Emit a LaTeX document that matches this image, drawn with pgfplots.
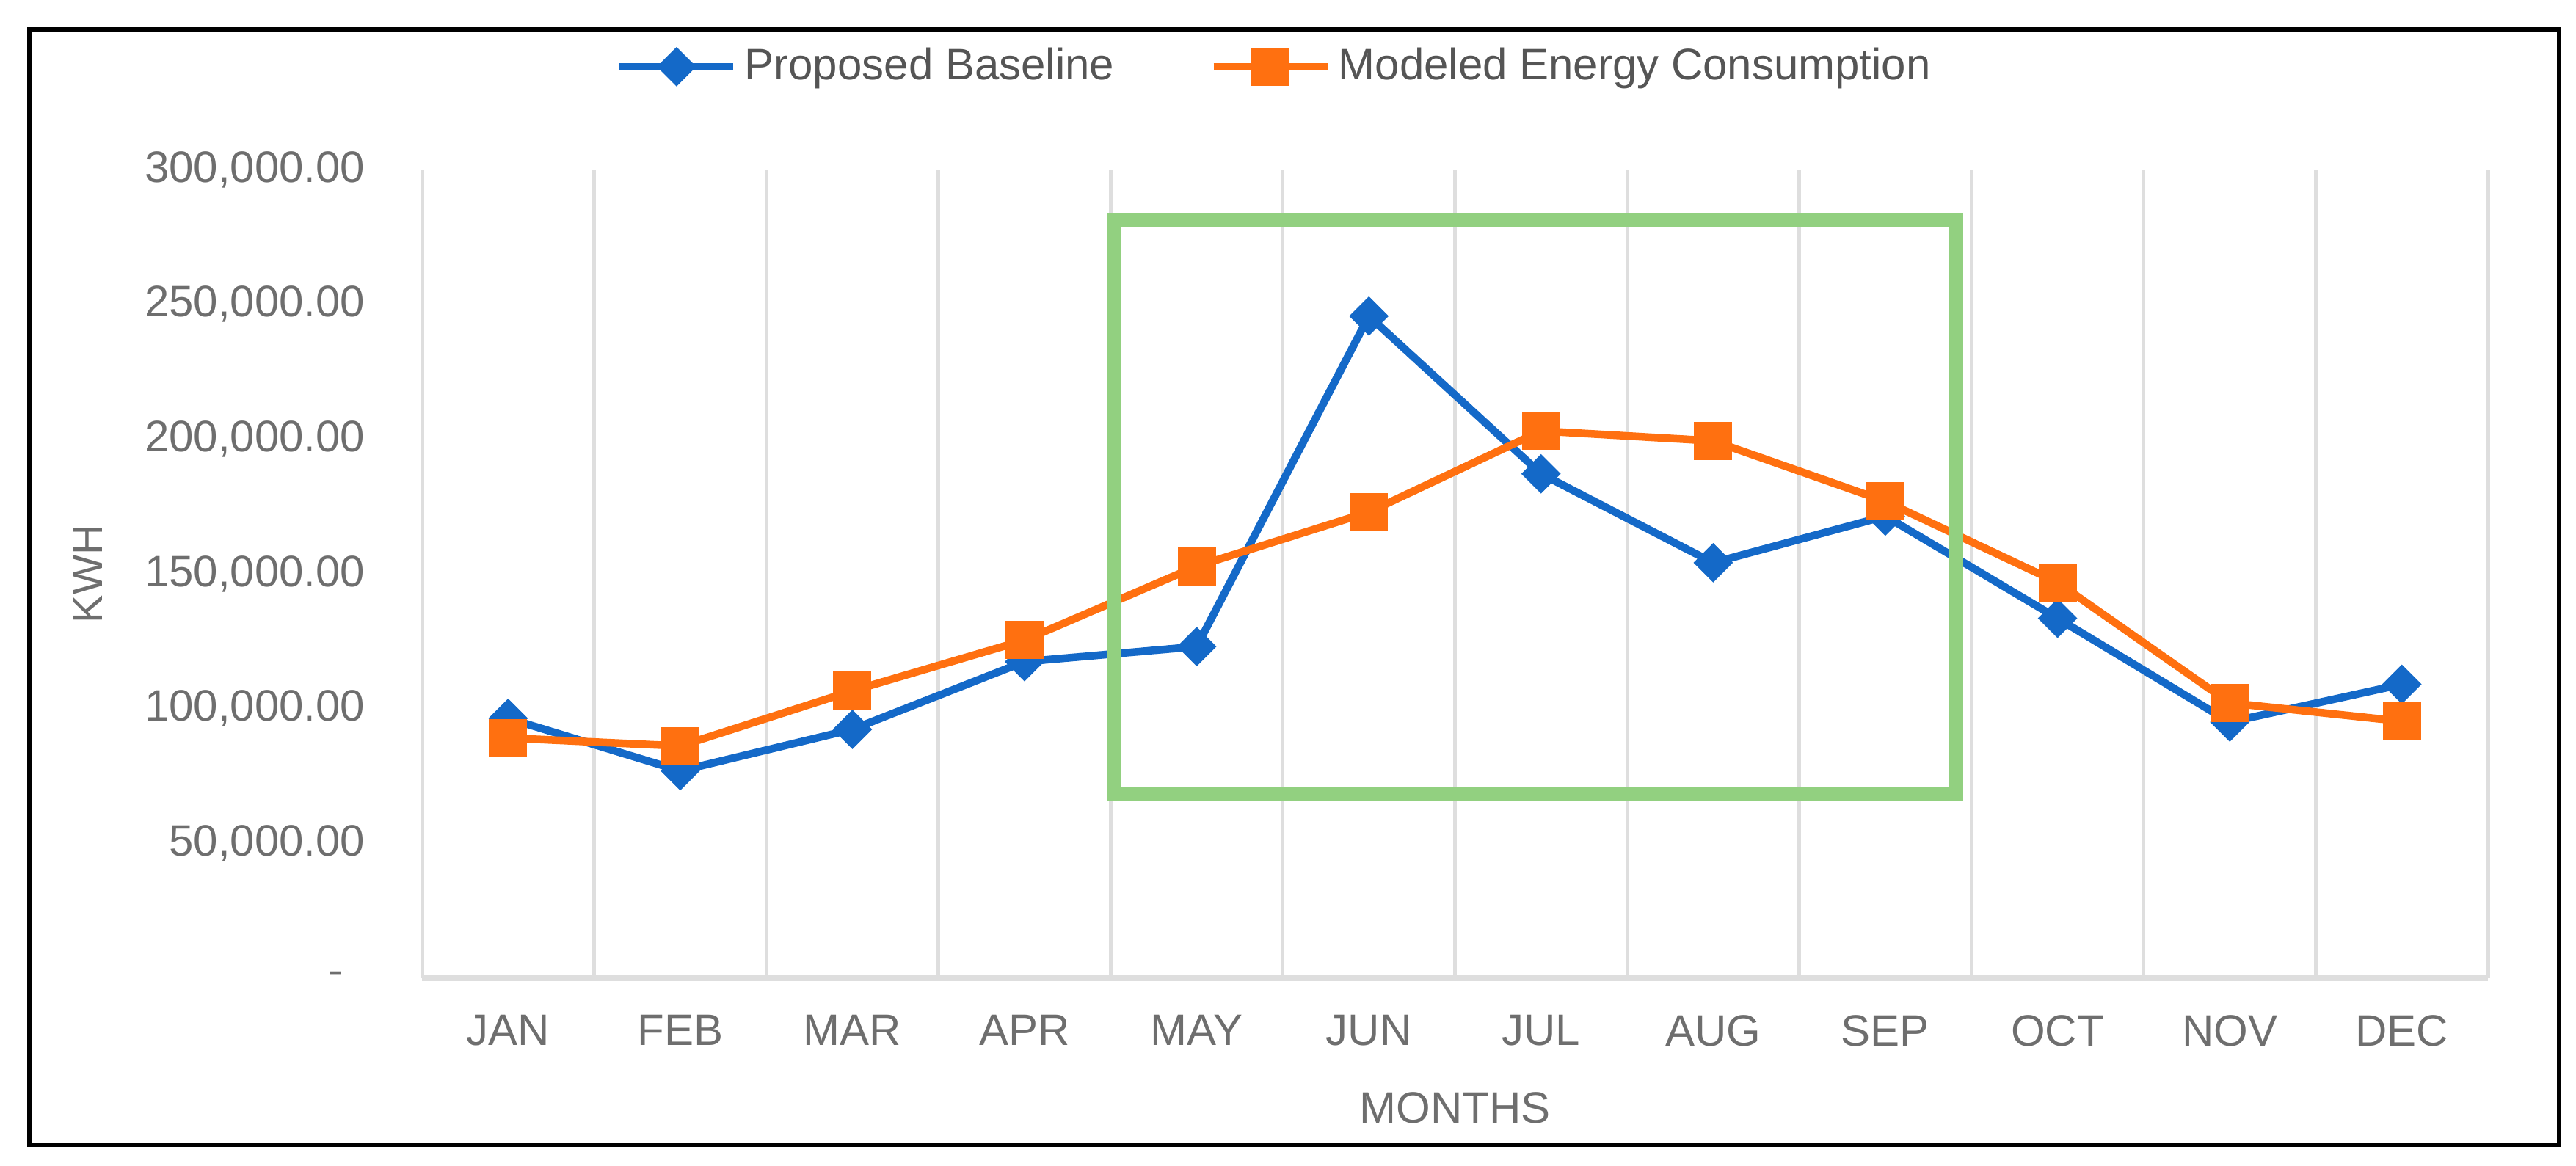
\documentclass[border=0pt]{standalone}
\usepackage{pgfplots}
\pgfplotsset{compat=1.18}
\usepackage{fontspec}
\setmainfont{Liberation Sans}
\definecolor{cblue}{RGB}{20,105,200}
\definecolor{corange}{RGB}{255,112,16}
\definecolor{cgreen}{RGB}{146,208,128}
\definecolor{ctext}{RGB}{110,110,110}
\definecolor{clegend}{RGB}{85,85,85}
\definecolor{cgrid}{RGB}{222,222,222}
\begin{document}
\begin{tikzpicture}
\path[use as bounding box] (0,0) rectangle (702pt,317.8pt);
\draw[black, line width=1.3pt] (8.05pt,5.8pt) rectangle (697.4pt,309.8pt);
\begin{axis}[
  at={(115pt,51.2pt)}, anchor=south west,
  scale only axis, width=563pt, height=220.4pt,
  xmin=-0.5, xmax=11.5, ymin=0, ymax=300000,
  scaled y ticks=false,
  xtick={0,...,11},
  xticklabels={JAN,FEB,MAR,APR,MAY,JUN,JUL,AUG,SEP,OCT,NOV,DEC},
  minor xtick={-0.5,0.5,...,11.5},
  xminorgrids=true,
  minor grid style={cgrid, line width=1pt},
  ytick={0,50000,100000,150000,200000,250000,300000},
  yticklabels={{-\rule{6pt}{0pt}},{50,000.00},{100,000.00},{150,000.00},{200,000.00},{250,000.00},{300,000.00}},
  major tick length=0pt, minor tick length=0pt,
  axis line style={draw=none},
  extra y ticks={0},
  extra y tick labels={},
  extra y tick style={grid=major, major grid style={cgrid, line width=1.5pt}},
  tick label style={font=\fontsize{12}{14}\selectfont, text=ctext},
  xticklabel style={yshift=-6.5pt},
  yticklabel style={xshift=-12pt},
  legend columns=2,
  legend style={at={(rel axis cs:0.5,1)}, anchor=center, xshift=-48.5pt, yshift=28pt,
    draw=none, fill=none, font=\fontsize{12}{14}\selectfont, text=clegend,
    /tikz/every even column/.append style={column sep=24pt}},
  legend cell align=left,
  legend image code/.code={
    \draw[mark repeat=2,mark phase=2,#1] plot coordinates {(0pt,0pt) (15.5pt,0pt) (31pt,0pt)};
  },
]
\addplot[cblue, line width=2.1pt, mark=square*, mark size=3.6pt,
  mark options={rotate=45, line width=0.4pt, fill=cblue}] coordinates {
  (0,96400) (1,76900) (2,92300) (3,117400) (4,123000) (5,245600)
  (6,187100) (7,154100) (8,171400) (9,133500) (10,95000) (11,109000)};
\addlegendentry{Proposed Baseline}
\addplot[corange, line width=2.1pt, mark=square*, mark size=5pt,
  mark options={line width=0.4pt, fill=corange}] coordinates {
  (0,89100) (1,86100) (2,106600) (3,125400) (4,152800) (5,172900)
  (6,203000) (7,199300) (8,176900) (9,146800) (10,102100) (11,95300)};
\addlegendentry{Modeled Energy Consumption}
\draw[cgreen, line width=4pt] (axis cs:3.52,68400) rectangle (axis cs:8.41,281300);
\end{axis}
\node[rotate=90, font=\fontsize{11.5}{13}\selectfont, text=ctext] at (24pt,161.4pt) {KWH};
\node[font=\fontsize{12}{14}\selectfont, text=ctext] at (396.5pt,15.8pt) {MONTHS};
\end{tikzpicture}
\end{document}
